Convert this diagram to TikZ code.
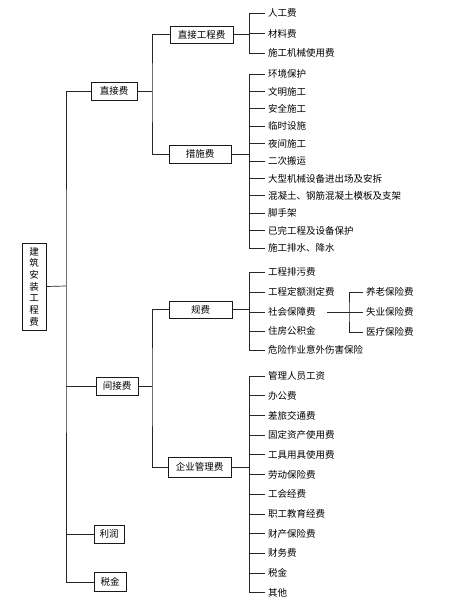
\documentclass[tikz,border=0pt]{standalone}
\usepackage{fontspec}
\newfontfamily\cjk{Noto Sans CJK SC}
\begin{document}
\begin{tikzpicture}[x=1pt,y=-1pt,
  box/.style={draw=black!90, line width=0.8pt, font=\cjk\fontsize{9.5}{11}\selectfont, inner sep=0pt, minimum height=18pt},
  leaf/.style={anchor=west, inner xsep=3pt, inner ysep=1pt, font=\cjk\fontsize{9.5}{11}\selectfont},
  conn/.style={line width=0.7pt, draw=black!85}]
\useasboundingbox[fill=white] (0,0) rectangle (450,602);
% level 0
\node[box, minimum width=24pt, minimum height=87pt, align=center, font=\cjk\fontsize{9.5}{11.7}\selectfont] (root) at (34,286.5) {建\\筑\\安\\装\\工\\程\\费};
% level 1
\node[box, minimum width=46pt] (zj) at (114,91) {直接费};
\node[box, minimum width=42pt] (jj) at (117,386) {间接费};
\node[box, minimum width=30pt] (lr) at (109,534) {利润};
\node[box, minimum width=32pt, minimum height=19pt] (sj) at (110,582) {税金};
% level 2
\node[box, minimum width=63pt, minimum height=17pt] (zjgc) at (201.5,34.5) {直接工程费};
\node[box, minimum width=62pt] (cs) at (200,154) {措施费};
\node[box, minimum width=63pt, minimum height=17pt] (gf) at (200.5,309.5) {规费};
\node[box, minimum width=63pt, minimum height=20pt] (qy) at (199.5,467) {企业管理费};
% leaves
\node[leaf] (a1) at (265,13) {人工费};
\node[leaf] (a2) at (265,33.5) {材料费};
\node[leaf] (a3) at (265,53) {施工机械使用费};
\foreach \t [count=\i] in {环境保护,文明施工,安全施工,临时设施,夜间施工,二次搬运,大型机械设备进出场及安拆,混凝土、钢筋混凝土模板及支架,脚手架,已完工程及设备保护,施工排水、降水}
  \node[leaf] (c\i) at (265,{74+17.4*(\i-1)}) {\t};
\node[leaf] (g1) at (265,272) {工程排污费};
\node[leaf] (g2) at (265,292) {工程定额测定费};
\node[leaf, text width=56pt] (g3) at (265,312) {社会保障费};
\node[leaf] (g4) at (265,331) {住房公积金};
\node[leaf] (g5) at (265,350) {危险作业意外伤害保险};
\node[leaf] (s1) at (363,292) {养老保险费};
\node[leaf] (s2) at (363,312) {失业保险费};
\node[leaf] (s3) at (363,332) {医疗保险费};
\foreach \t [count=\i] in {管理人员工资,办公费,差旅交通费,固定资产使用费,工具用具使用费,劳动保险费,工会经费,职工教育经费,财产保险费,财务费,税金,其他}
  \node[leaf] (q\i) at (265,{376+19.7*(\i-1)}) {\t};
% connectors level 0-1
\coordinate (t0) at (66,286);
\draw[conn] (root.east) -- (t0);
\draw[conn] (zj.west) -| (t0) |- (sj.west);
\draw[conn] (jj.west) -- (jj.west -| t0);
\draw[conn] (lr.west) -- (lr.west -| t0);
% level 1-2
\coordinate (t1) at (152,91);
\draw[conn] (zj.east) -- (t1);
\draw[conn] (zjgc.west) -| (t1) |- (cs.west);
\coordinate (t2) at (152,386);
\draw[conn] (jj.east) -- (t2);
\draw[conn] (gf.west) -| (t2) |- (qy.west);
% level 2-3
\coordinate (tx) at (249,0);
\draw[conn] (zjgc.east) -- (zjgc.east -| tx);
\draw[conn] (a1.west -| tx) -- (a3.west -| tx);
\foreach \i in {1,2,3} \draw[conn] (a\i.west) -- (a\i.west -| tx);
\draw[conn] (cs.east) -- (cs.east -| tx);
\draw[conn] (c1.west -| tx) -- (c11.west -| tx);
\foreach \i in {1,...,11} \draw[conn] (c\i.west) -- (c\i.west -| tx);
\draw[conn] (gf.east) -- (gf.east -| tx);
\draw[conn] (g1.west -| tx) -- (g5.west -| tx);
\foreach \i in {1,...,5} \draw[conn] (g\i.west) -- (g\i.west -| tx);
\draw[conn] (qy.east) -- (qy.east -| tx);
\draw[conn] (q1.west -| tx) -- (q12.west -| tx);
\foreach \i in {1,...,12} \draw[conn] (q\i.west) -- (q\i.west -| tx);
% social security sub-branch
\coordinate (ts) at (349,312);
\draw[conn] (g3.east) -- (ts);
\draw[conn] (s1.west) -| (ts) |- (s3.west);
\draw[conn] (s2.west) -- (s2.west -| ts);
\end{tikzpicture}
\end{document}
